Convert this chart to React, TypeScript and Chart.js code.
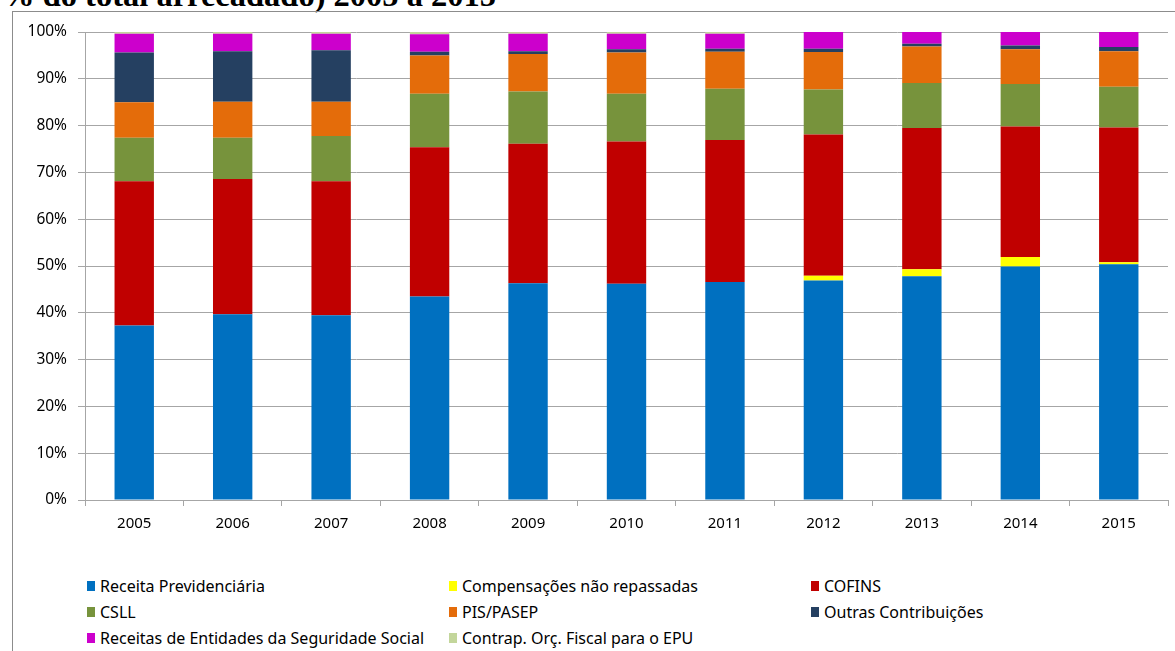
import React, { useEffect, useRef } from "react";
import { Chart, registerables } from "chart.js";

Chart.register(...registerables);

const years = ["2005", "2006", "2007", "2008", "2009", "2010", "2011", "2012", "2013", "2014", "2015"];

const receitaPrev = [37.3, 39.7, 39.5, 43.5, 46.3, 46.2, 46.6, 46.9, 47.8, 49.9, 50.4];
const compensacoes = [0, 0, 0, 0, 0, 0, 0, 1.0, 1.5, 2.0, 0.4];
const cofins = [30.8, 28.9, 28.6, 31.9, 29.8, 30.4, 30.3, 30.2, 30.2, 27.9, 28.8];
const csll = [9.3, 8.8, 9.7, 11.4, 11.2, 10.2, 11.0, 9.6, 9.6, 9.1, 8.7];
const pisPasep = [7.6, 7.7, 7.3, 8.2, 8.0, 8.8, 7.9, 8.0, 7.8, 7.4, 7.6];
const outras = [10.6, 10.8, 11.0, 0.8, 0.6, 0.7, 0.6, 0.7, 0.6, 0.8, 0.9];
const entidades = [4.0, 3.7, 3.5, 3.7, 3.7, 3.3, 3.2, 3.6, 2.5, 2.9, 3.2];
const contrap = [0.4, 0.4, 0.4, 0.5, 0.4, 0.4, 0.4, 0, 0, 0, 0];

const seriesNames = [
  "Receita Previdenciária",
  "Compensações não repassadas",
  "COFINS",
  "CSLL",
  "PIS/PASEP",
  "Outras Contribuições",
  "Receitas de Entidades da Seguridade Social",
  "Contrap. Orç. Fiscal para o EPU",
];
const seriesValues = [receitaPrev, compensacoes, cofins, csll, pisPasep, outras, entidades, contrap];
const seriesColors = ["#0070C0", "#FFFF00", "#C00000", "#77933C", "#E46C0A", "#254061", "#CC00CC", "#C3D69B"];

const yTicks = [0, 10, 20, 30, 40, 50, 60, 70, 80, 90, 100];

const TITLE = "% do total arrecadado) 2005 a 2015";
const FONT = "'Noto Sans', sans-serif";

export default function App() {
  const canvasRef = useRef<HTMLCanvasElement | null>(null);

  useEffect(() => {
    document.body.style.margin = "0";
    const ctx = canvasRef.current;
    if (!ctx) return;
    const chart = new Chart(ctx, {
      type: "bar",
      data: {
        labels: years,
        datasets: seriesNames.map((name, i) => ({
          label: name,
          data: seriesValues[i],
          backgroundColor: seriesColors[i],
          borderWidth: 0,
          barPercentage: 0.4,
          categoryPercentage: 1.0,
        })),
      },
      options: {
        responsive: false,
        animation: false,
        maintainAspectRatio: false,
        layout: { padding: { left: 0, right: 7, top: 32, bottom: 0 } },
        plugins: { legend: { display: false }, tooltip: { enabled: false }, title: { display: false } },
        scales: {
          x: {
            stacked: true,
            offset: true,
            grid: { offset: true, drawOnChartArea: false, drawTicks: true, tickLength: 6, color: "#A6A6A6", lineWidth: 1 },
            border: { color: "#A6A6A6", width: 1 },
            ticks: { color: "#000", font: { family: FONT, size: 15 }, padding: 9 },
            afterFit: (s: any) => { s.height = 60; },
          },
          y: {
            stacked: true,
            min: 0,
            max: 100,
            afterBuildTicks: (s: any) => { s.ticks = yTicks.map((v) => ({ value: v })); },
            ticks: { color: "#000", font: { family: FONT, size: 15.5 }, padding: 11, callback: (v: any) => v + "%" },
            grid: { color: "#A6A6A6", lineWidth: 1, tickLength: 7 },
            border: { color: "#A6A6A6", width: 1 },
            afterFit: (s: any) => { s.width = 85; },
          },
        },
      },
    });
    return () => chart.destroy();
  }, []);

  const legendCols = [87, 449, 811];
  const legendRows = [586, 612, 638];

  return (
    <div style={{ position: "fixed", left: 0, top: 0, width: 1175, height: 651, overflow: "hidden", background: "#fff" }}>
      <div
        style={{
          position: "absolute",
          left: 2,
          top: -21,
          fontFamily: "'Liberation Serif', serif",
          fontWeight: "bold",
          fontSize: 32.5,
          lineHeight: "32px",
          whiteSpace: "nowrap",
          color: "#000",
        }}
      >
        {TITLE}
      </div>
      <div
        style={{
          position: "absolute",
          left: 12,
          top: 11,
          width: 1220,
          height: 700,
          border: "1px solid #8C8C8C",
          boxSizing: "border-box",
        }}
      />
      <canvas ref={canvasRef} width={1175} height={560} style={{ position: "absolute", left: 0, top: 0, width: 1175, height: 560 }} />
      {seriesNames.map((name, i) => {
        const col = i % 3;
        const row = Math.floor(i / 3);
        return (
          <div
            key={name}
            style={{
              position: "absolute",
              left: legendCols[col],
              top: legendRows[row] - 11,
              height: 22,
              display: "flex",
              alignItems: "center",
              whiteSpace: "nowrap",
              fontFamily: FONT,
              fontSize: 16,
              color: "#000",
            }}
          >
            <span style={{ display: "inline-block", width: 8, height: 10, background: seriesColors[i], marginRight: 5 }} />
            <span>{name}</span>
          </div>
        );
      })}
    </div>
  );
}
